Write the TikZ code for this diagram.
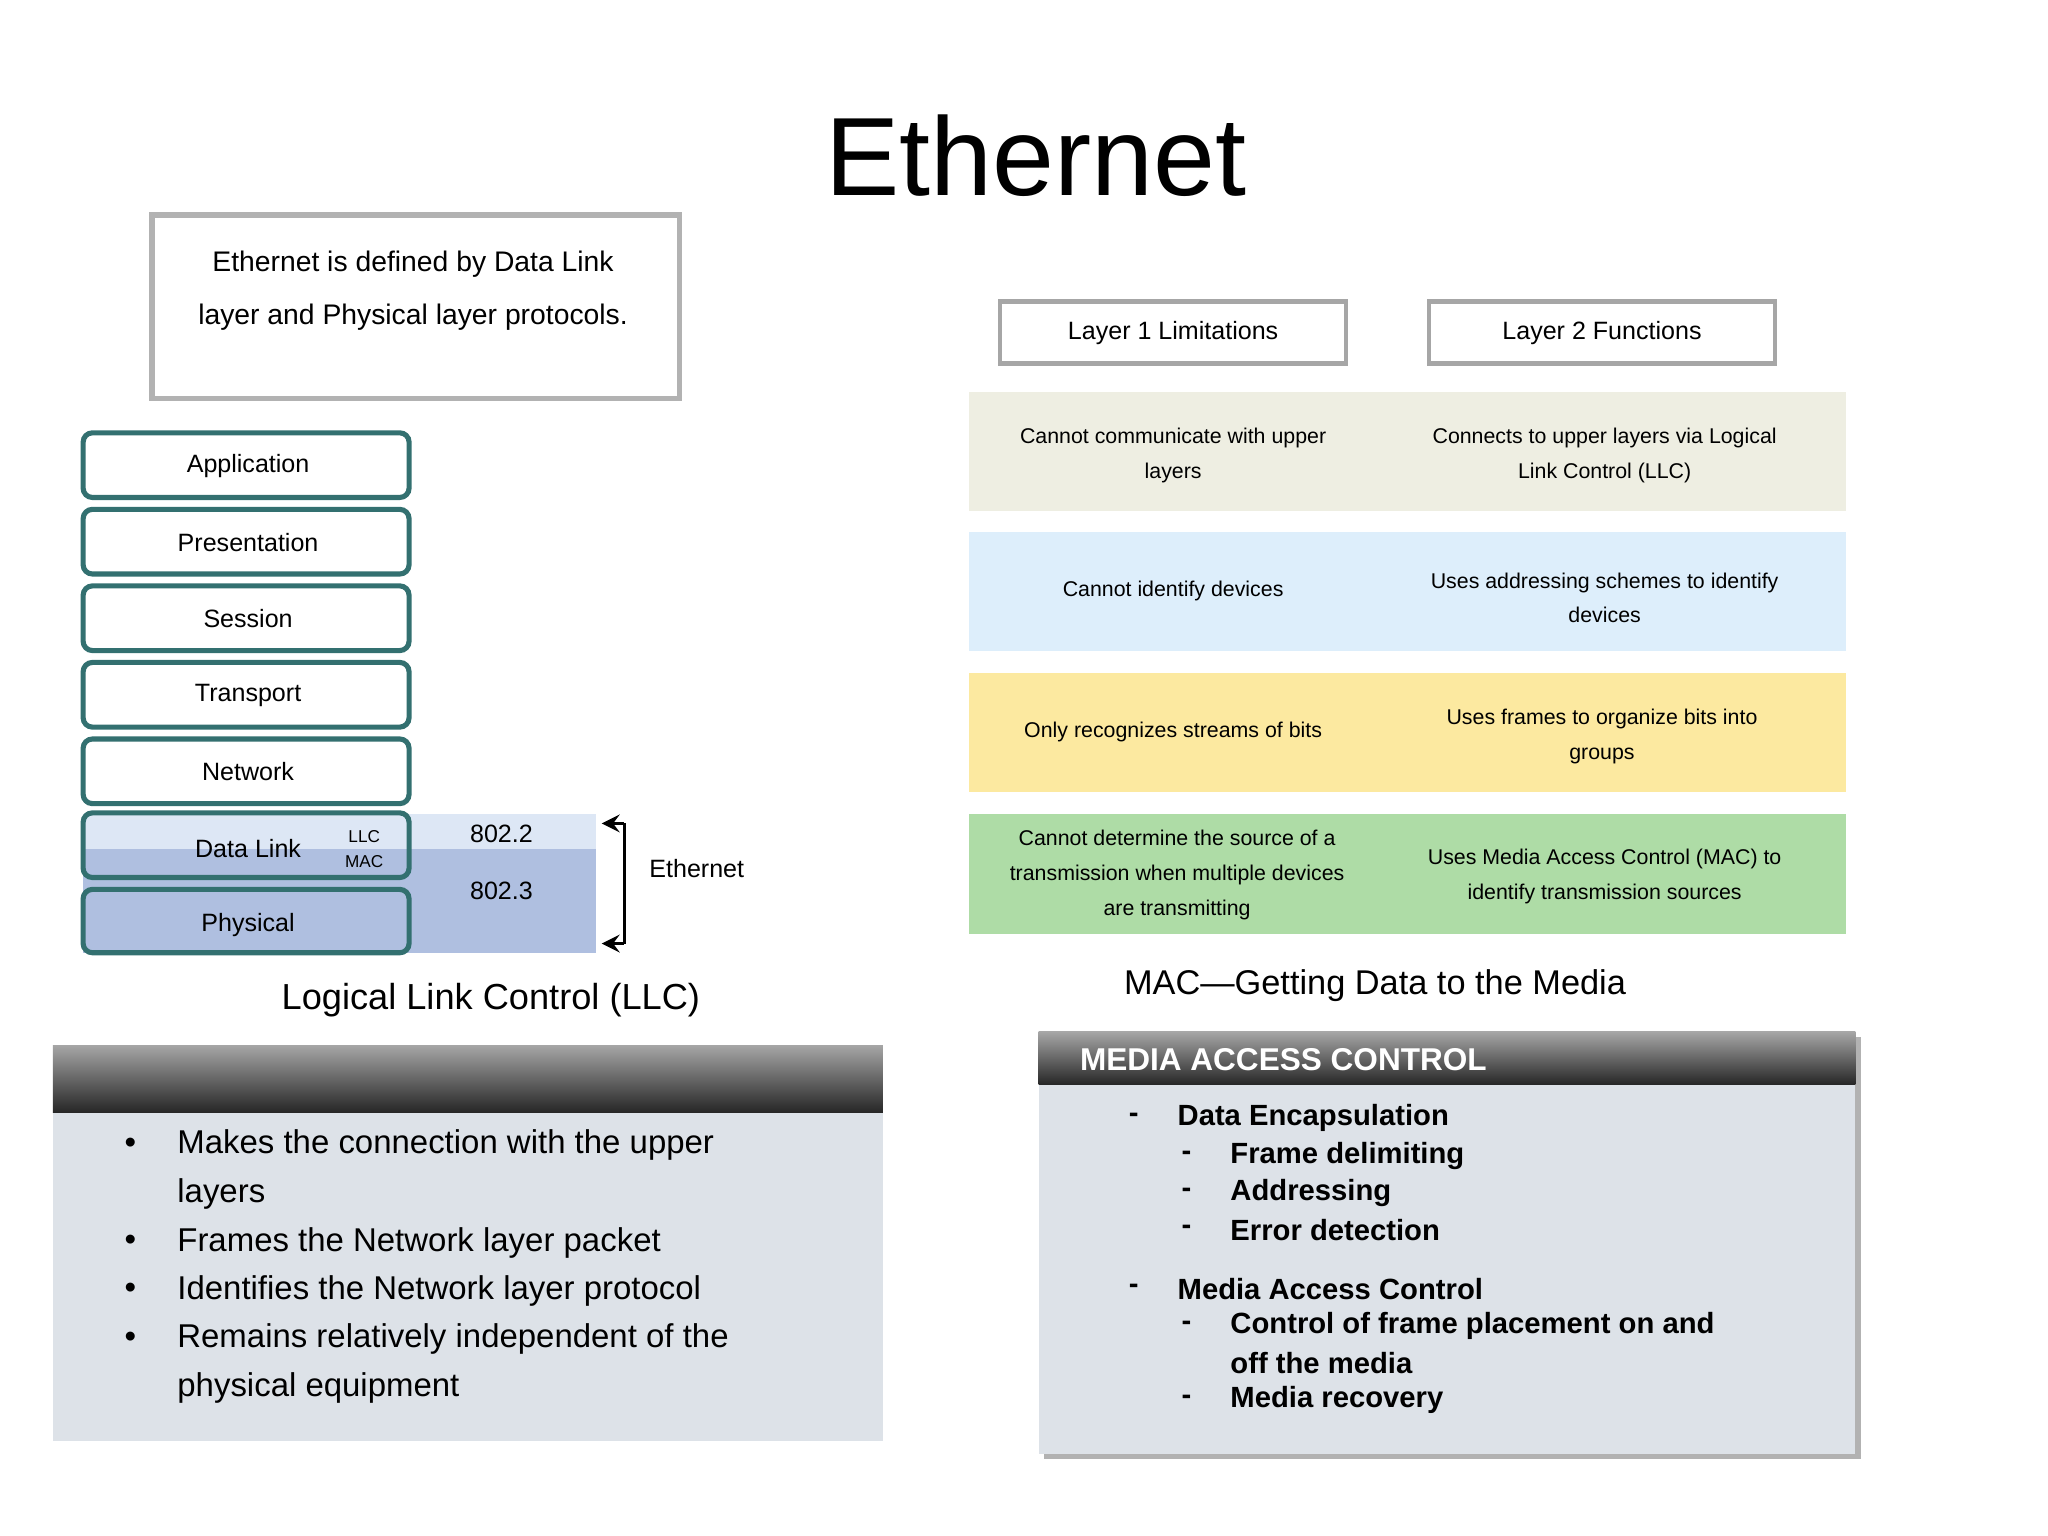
\documentclass[tikz,border=0pt]{standalone}
\usepackage{fontspec}
\setmainfont{Liberation Sans}
\definecolor{bandA}{HTML}{DDE7F5}
\definecolor{bandB}{HTML}{AFBFE0}
\definecolor{rowA}{HTML}{EEEEE2}
\definecolor{rowB}{HTML}{DDEEFB}
\definecolor{rowC}{HTML}{FCE9A0}
\definecolor{rowD}{HTML}{AEDCA6}
\definecolor{boxbg}{HTML}{DDE2E8}
\begin{document}
\begin{tikzpicture}[x=0.01cm,y=-0.01cm,
 osi/.style={draw=black!20!teal!60!gray,line width=1.1pt,rounded corners=2pt},
 lbl/.style={font=\fontsize{5.4}{6}\selectfont,align=center},
 row/.style={font=\fontsize{4.6}{7.5}\selectfont,align=center},
 hdr/.style={draw=black!35,line width=1pt,fill=white,minimum width=2.62cm,minimum height=0.47cm},
 blt/.style={anchor=west,font=\fontsize{7.1}{8}\selectfont},
 mb/.style={anchor=west,font=\fontsize{6.3}{7}\selectfont\bfseries}]
\useasboundingbox (0,0) rectangle (1552,1164);
\node (title) at (785,118) {\fontsize{24}{28}\selectfont Ethernet};
% top-left box
\draw[draw=black!30,line width=1.2pt] (115,163) rectangle (515,302);
\node[lbl,font=\fontsize{6.1}{11.4}\selectfont] (def) at (313,220) {Ethernet is defined by Data Link\\layer and Physical layer protocols.};
% bands
\fill[bandA] (63,617) rectangle (452,643);
\fill[bandB] (63,643) rectangle (452,722);
\foreach \n/\t/\a in {app/Application/328,pres/Presentation/386,ses/Session/444,tra/Transport/502,net/Network/560}{
 \draw[osi,fill=white] (63,\a) rectangle (310,\a+49);
 \node[lbl] (\n) at (188,\a+25) {\t};}
\draw[osi] (63,616) rectangle (310,665);
\draw[osi] (63,674) rectangle (310,722);
\node[lbl] (dl) at (188,643) {Data Link};
\node[font=\fontsize{3.7}{4}\selectfont] (llc) at (276,634) {LLC};
\node[font=\fontsize{3.7}{4}\selectfont] (mac) at (276,653) {MAC};
\node[lbl] (phy) at (188,701) {Physical};
\node[lbl] (a) at (380,632) {802.2};
\node[lbl] (b) at (380,675) {802.3};
\coordinate (bt) at (456,624); \coordinate (bb) at (456,715);
\draw[->,>=stealth,line width=0.7pt] (473,624) -- (bt);
\draw[->,>=stealth,line width=0.7pt] (473,715) -- (bb);
\draw[line width=0.7pt] (473,624) -- (473,715);
\node[lbl] (eth) at (528,658) {Ethernet};
\node[font=\fontsize{7.8}{9}\selectfont] (llct) at (372,758) {Logical Link Control (LLC)};
% LLC box
\fill[boxbg] (40,792) rectangle (669,1092);
\shade[top color=gray!70,bottom color=black!85] (40,792) rectangle (669,843);
\foreach \y/\t in {868/{Makes the connection with the upper},942/{Frames the Network layer packet},978/{Identifies the Network layer protocol},1015/{Remains relatively independent of the}}
 {\node[blt] at (82,\y) {\textbullet}; \node[blt] at (122,\y) {\t};}
\node[blt] at (122,905) {layers};
\node[blt] at (122,1052) {physical equipment};
% right table
\node[hdr,lbl] (l1) at (889,252) {Layer 1 Limitations};
\node[hdr,lbl] (l2) at (1214,252) {Layer 2 Functions};
\fill[rowA] (734,297) rectangle (1399,387);
\fill[rowB] (734,403) rectangle (1399,493);
\fill[rowC] (734,510) rectangle (1399,600);
\fill[rowD] (734,617) rectangle (1399,708);
\node[row] at (889,345) {Cannot communicate with upper\\layers};
\node[row] at (1216,345) {Connects to upper layers via Logical\\Link Control (LLC)};
\node[row] at (889,448) {Cannot identify devices};
\node[row] at (1216,453) {Uses addressing schemes to identify\\devices};
\node[row] at (889,555) {Only recognizes streams of bits};
\node[row] at (1214,558) {Uses frames to organize bits into\\groups};
\node[row] at (892,663) {Cannot determine the source of a\\transmission when multiple devices\\are transmitting};
\node[row] at (1216,664) {Uses Media Access Control (MAC) to\\identify transmission sources};
\node[font=\fontsize{7.4}{9}\selectfont] (mact) at (1042,747) {MAC—Getting Data to the Media};
% MAC box
\fill[black!30] (791,786) rectangle (1410,1106);
\fill[boxbg] (787,782) rectangle (1406,1102);
\shade[top color=gray!70,bottom color=black!85] (787,782) rectangle (1406,822);
\node[anchor=west,text=white,font=\fontsize{6.8}{8}\selectfont\bfseries] at (806,803) {MEDIA ACCESS CONTROL};
\foreach \y/\t in {847/Data Encapsulation,977/Media Access Control}
 {\node[mb] at (843,\y) {-}; \node[mb] at (880,\y) {\t};}
\foreach \y/\t in {876/Frame delimiting,904/Addressing,932/Error detection,1005/Control of frame placement on and,1061/Media recovery}
 {\node[mb] at (883,\y) {-}; \node[mb] at (920,\y) {\t};}
\node[mb] at (920,1033) {off the media};
\end{tikzpicture}
\end{document}
